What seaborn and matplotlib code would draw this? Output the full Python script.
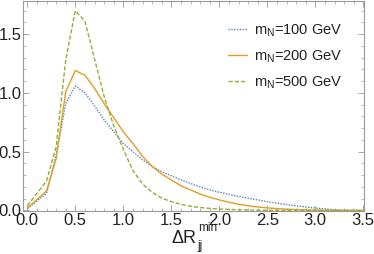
import numpy as np
import pandas as pd
import matplotlib
matplotlib.use("Agg")
import matplotlib.pyplot as plt
from matplotlib.ticker import MultipleLocator, FormatStrFormatter
import seaborn as sns

# Delta R_jj^min grid (no point at 0.1)
dr = [0.0, 0.2, 0.3, 0.4, 0.5, 0.6, 0.7, 0.8, 0.9, 1.0, 1.1, 1.2, 1.3, 1.4, 1.5,
      1.6, 1.7, 1.8, 1.9, 2.0, 2.1, 2.2, 2.3, 2.4, 2.5, 2.6, 2.7, 2.8, 2.9, 3.0,
      3.1, 3.2, 3.3, 3.4, 3.5]

m100 = [0.015, 0.145, 0.47, 0.91, 1.06, 1.00, 0.89, 0.77, 0.67, 0.57, 0.50, 0.43,
        0.375, 0.33, 0.295, 0.26, 0.23, 0.20, 0.175, 0.155, 0.137, 0.12, 0.104,
        0.09, 0.075, 0.062, 0.050, 0.039, 0.030, 0.021, 0.013, 0.006, 0.002, 0.0, 0.0]

m200 = [0.02, 0.165, 0.44, 1.01, 1.19, 1.15, 1.04, 0.91, 0.79, 0.67, 0.57, 0.46,
        0.375, 0.31, 0.26, 0.21, 0.175, 0.14, 0.112, 0.09, 0.07, 0.053, 0.04,
        0.03, 0.022, 0.016, 0.011, 0.008, 0.005, 0.003, 0.002, 0.001, 0.0, 0.0, 0.0]

m500 = [0.04, 0.25, 0.54, 1.28, 1.70, 1.61, 1.29, 0.97, 0.72, 0.52, 0.34, 0.225,
        0.155, 0.105, 0.075, 0.052, 0.036, 0.025, 0.018, 0.012, 0.009, 0.006,
        0.004, 0.003, 0.002, 0.001, 0.0, 0.0, 0.0, 0.0, 0.0, 0.0, 0.0, 0.0, 0.0]

labels = ["m$_{\\mathrm{N}}$=100 GeV", "m$_{\\mathrm{N}}$=200 GeV", "m$_{\\mathrm{N}}$=500 GeV"]
colors = ["#5E81B5", "#E19C24", "#8FB032"]
styles = [(0, (1, 1)), "-", (0, (3, 1.5))]

sns.set_theme(style="ticks")
plt.rcParams["font.family"] = ["Liberation Sans", "DejaVu Sans"]
plt.rcParams["mathtext.fontset"] = "custom"
plt.rcParams["mathtext.rm"] = "Liberation Sans"
plt.rcParams["mathtext.it"] = "Liberation Sans:italic"

W, H = 374, 254
fig = plt.figure(figsize=(3.74, 2.54), dpi=100)
ax = fig.add_axes([23 / W, 43.3 / H, 340.5 / W, 210.2 / H])

for vals, lab, col, ls in zip([m100, m200, m500], labels, colors, styles):
    df = pd.DataFrame({"dr": dr, "v": vals})
    sns.lineplot(data=df, x="dr", y="v", ax=ax, color=col, linestyle=ls,
                 linewidth=1.0, label=lab)

ax.set_xlim(-0.045, 3.502)
ax.set_ylim(-0.002, 1.786)
ax.xaxis.set_major_locator(MultipleLocator(0.5))
ax.xaxis.set_minor_locator(MultipleLocator(0.1))
ax.yaxis.set_major_locator(MultipleLocator(0.5))
ax.yaxis.set_minor_locator(MultipleLocator(0.1))
ax.xaxis.set_major_formatter(FormatStrFormatter("%.1f"))
ax.yaxis.set_major_formatter(FormatStrFormatter("%.1f"))

ax.tick_params(which="both", direction="in", top=True, right=True, colors="#999999",
               labelcolor="#222222", labelsize=12)
ax.tick_params(which="major", length=4, width=0.6)
ax.tick_params(which="minor", length=2, width=0.5)
ax.tick_params(axis="x", pad=1.5)
ax.tick_params(axis="y", pad=1)
for s in ax.spines.values():
    s.set_color("#999999")
    s.set_linewidth(0.8)

ax.set_xlabel("")
ax.set_ylabel("")

# x label built in pieces: Delta R with stacked "jj" / "min"
tc = "#222222"
fig.text(197 / W, 1 - 243 / H, "\u0394R", fontsize=13, color=tc, ha="right", va="baseline")
fig.text(198.5 / W, 1 - 231 / H, "min", fontsize=8.5, color=tc, ha="left", va="baseline")
fig.text(197 / W, 1 - 248.5 / H, "jj", fontsize=8.5, color=tc, ha="left", va="baseline")

leg = ax.legend(loc="upper left", bbox_to_anchor=(0.602, 0.895), frameon=False,
                fontsize=10.5, handlelength=1.3, handletextpad=0.45, labelspacing=0.65,
                borderpad=0, borderaxespad=0)
for t in leg.get_texts():
    t.set_color(tc)

fig.savefig("out.png", dpi=100)
